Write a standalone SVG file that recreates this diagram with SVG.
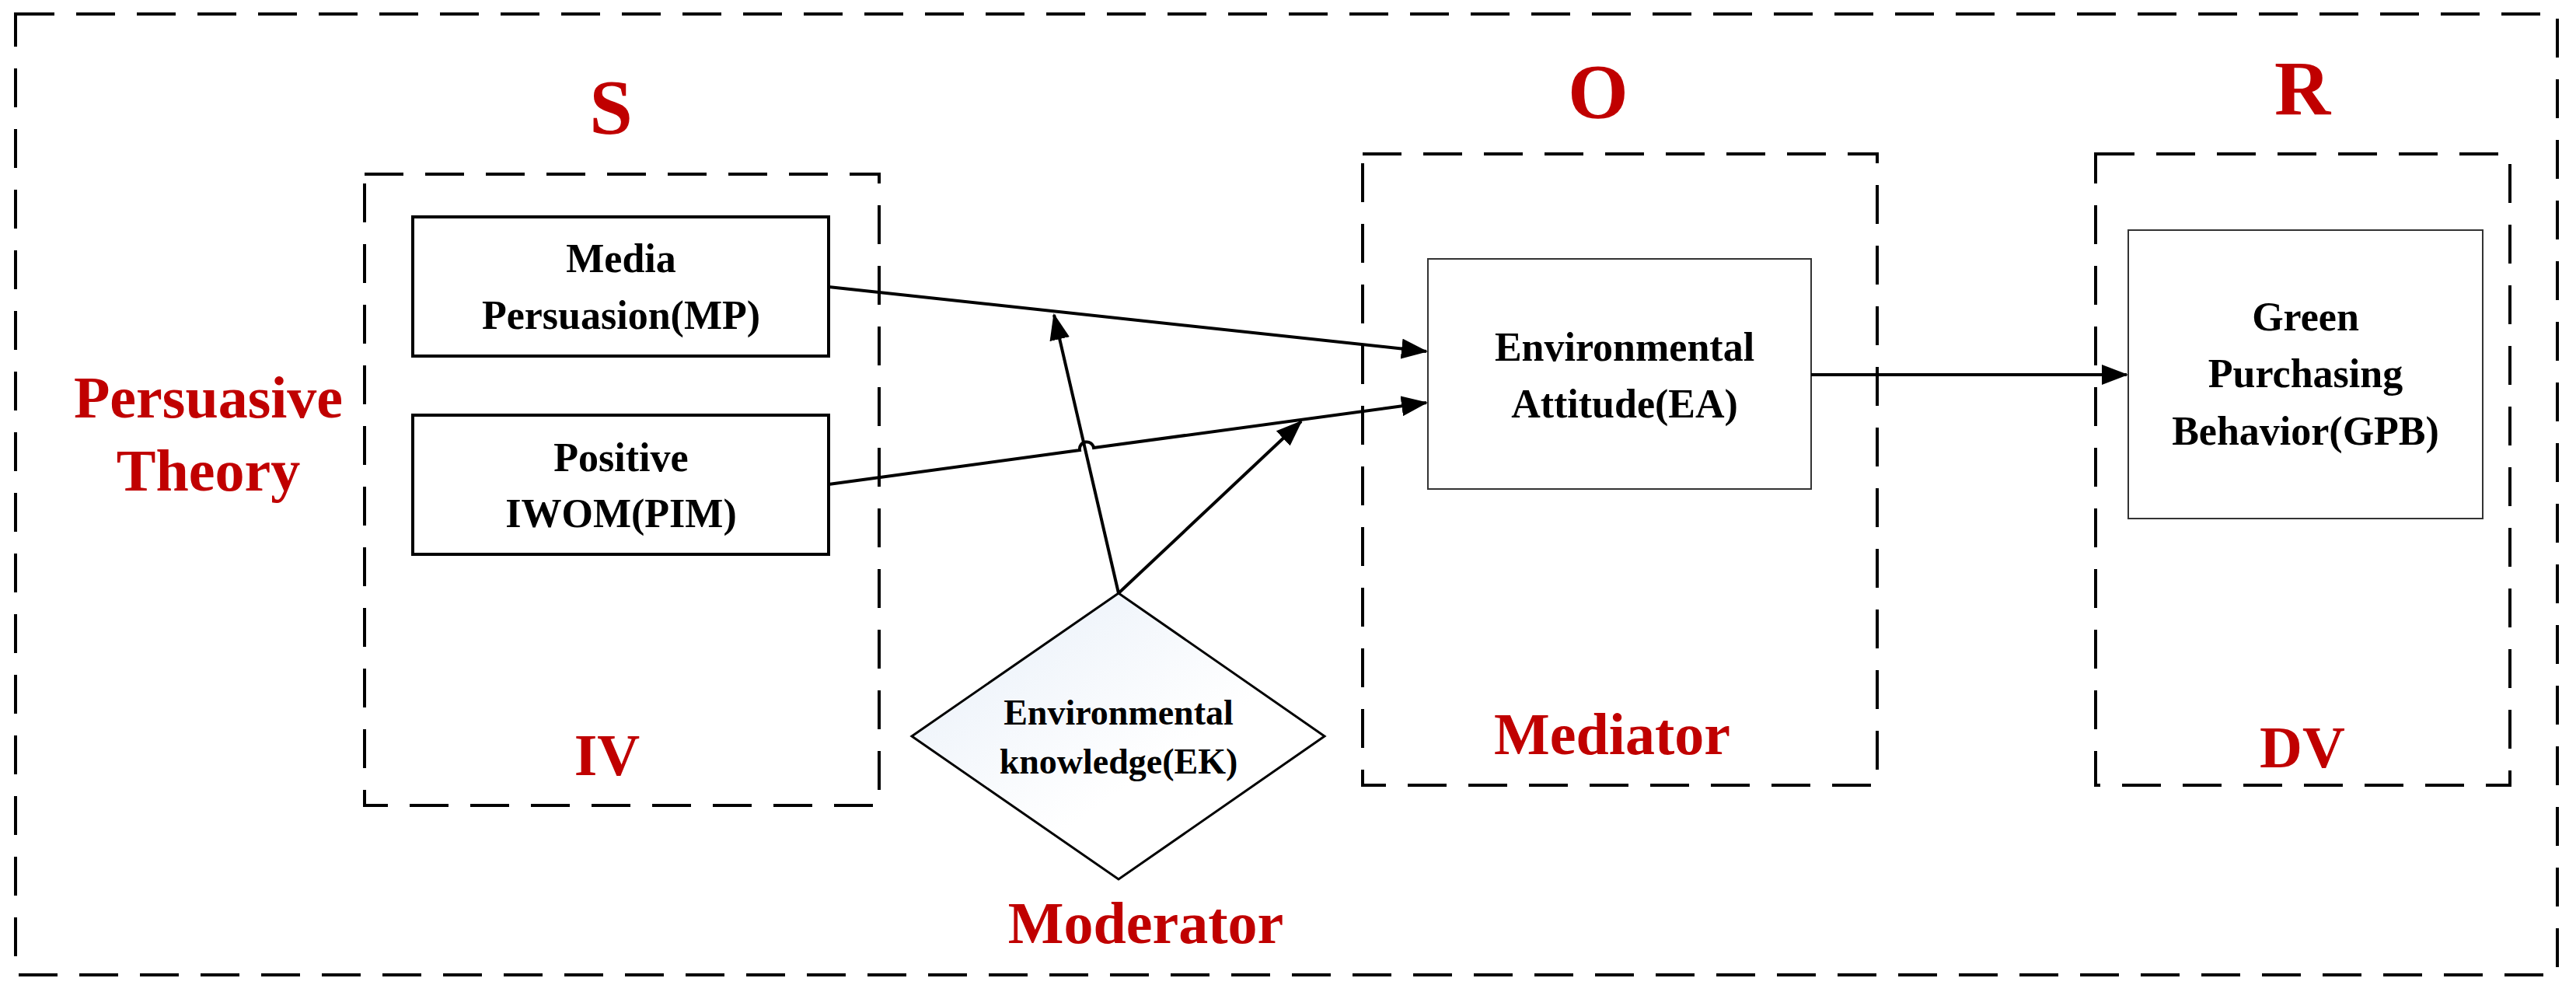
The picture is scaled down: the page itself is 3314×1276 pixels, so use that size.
<svg xmlns="http://www.w3.org/2000/svg" width="3314" height="1276" viewBox="0 0 3314 1276">
<style>
.dash{fill:none;stroke:#000;stroke-width:4;stroke-dasharray:50,28}
.box{fill:#fff;stroke:#000;stroke-width:4}
.box2{fill:#fff;stroke:#333;stroke-width:2}
.t{font-family:"Liberation Serif",serif;font-weight:bold;fill:#000;text-anchor:middle;font-size:52px}
.r{font-family:"Liberation Serif",serif;font-weight:bold;fill:#C00000;text-anchor:middle;font-size:76px}
.big{font-size:100px}
.ln{fill:none;stroke:#000;stroke-width:4}
</style>
<defs>
<marker id="ah" markerWidth="34" markerHeight="26" refX="32" refY="13" orient="auto" markerUnits="userSpaceOnUse" viewBox="0 0 34 26"><path d="M0,0 L34,13 L0,26 z" fill="#000"/></marker>
<linearGradient id="g" x1="0" y1="0" x2="1" y2="1"><stop offset="0" stop-color="#e6eef8"/><stop offset="0.6" stop-color="#fff"/></linearGradient>
</defs>
<rect class="dash" x="20" y="18" width="3270" height="1236"/>
<g id="labels">
<text class="r big" x="786" y="171">S</text>
<text class="r big" x="2056" y="151">O</text>
<text class="r big" x="2962" y="147">R</text>
<text class="r" x="268" y="537">Persuasive</text>
<text class="r" x="268" y="631">Theory</text>
<text class="r" x="781" y="997">IV</text>
<text class="r" x="2074" y="970">Mediator</text>
<text class="r" x="2962" y="987">DV</text>
<text class="r" x="1474" y="1213">Moderator</text>
</g>
<g id="groupS"><rect class="dash" x="469" y="224" width="662" height="812"/></g>
<g id="groupO"><rect class="dash" x="1753" y="198" width="662" height="812"/></g>
<g id="groupR"><rect class="dash" x="2696" y="198" width="533" height="812"/></g>
<g id="MP"><rect class="box" x="531" y="279" width="535" height="179"/>
<text class="t" x="799" y="350">Media</text><text class="t" x="799" y="423">Persuasion(MP)</text></g>
<g id="PIM"><rect class="box" x="531" y="534" width="535" height="179"/>
<text class="t" x="799" y="606">Positive</text><text class="t" x="799" y="678">IWOM(PIM)</text></g>
<g id="EA"><rect class="box2" x="1837" y="333" width="493" height="296"/>
<text class="t" x="2090" y="464">Environmental</text><text class="t" x="2090" y="537">Attitude(EA)</text></g>
<g id="GPB"><rect class="box2" x="2738" y="296" width="456" height="371"/>
<text class="t" x="2966" y="425">Green</text><text class="t" x="2966" y="498">Purchasing</text><text class="t" x="2966" y="572">Behavior(GPB)</text></g>
<g id="EK"><polygon points="1439,763 1704,947 1439,1131 1173,947" fill="url(#g)" stroke="#000" stroke-width="3"/>
<text class="t" x="1439" y="932" style="font-size:46px">Environmental</text><text class="t" x="1439" y="995" style="font-size:46px">knowledge(EK)</text></g>
<g id="connectors">
<path class="ln" d="M1066,369 L1835,452" marker-end="url(#ah)"/>
<path class="ln" d="M1066,623 L1389,579 A9,9 0 0 1 1407,576 L1835,518" marker-end="url(#ah)"/>
<path class="ln" d="M1439,763 L1356,405" marker-end="url(#ah)"/>
<path class="ln" d="M1439,763 L1674,542" marker-end="url(#ah)"/>
<path class="ln" d="M2330,482 L2736,482" marker-end="url(#ah)"/>
</g>
</svg>
